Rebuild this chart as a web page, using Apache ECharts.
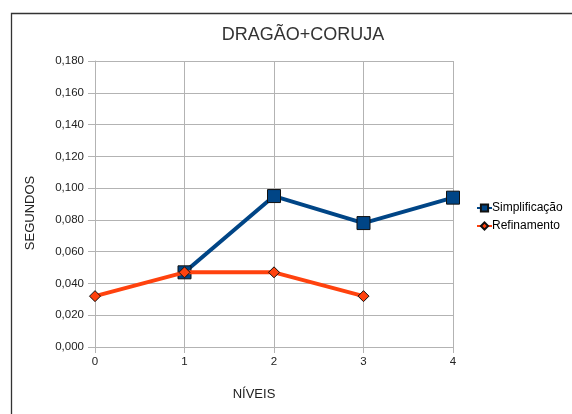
<!DOCTYPE html>
<html><head><meta charset="utf-8">
<script src="https://cdn.jsdelivr.net/npm/echarts@6/dist/echarts.min.js"></script>
<style>html,body{margin:0;padding:0;background:#fff}#c{width:572px;height:414px}</style>
</head><body><div id="c"></div>
<script>
const titleText = 'DRAGÃO+CORUJA';
const xName = 'NÍVEIS';
const yName = 'SEGUNDOS';
const levels = [0, 1, 2, 3, 4];
const simplificacao = [null, 0.047, 0.095, 0.078, 0.094];
const refinamento = [0.032, 0.047, 0.047, 0.032, null];
const seriesNames = ['Simplificação', 'Refinamento'];

const font = 'Liberation Sans, Arial, sans-serif';
const toPairs = arr => levels.map((x, i) => [x, arr[i]]).filter(p => p[1] !== null);

const chart = echarts.init(document.getElementById('c'), null, {renderer: 'canvas'});
chart.setOption({
  animation: false,
  backgroundColor: '#fff',
  graphic: [{
    type: 'rect', shape: {x: 11.5, y: 13.5, width: 580, height: 430},
    style: {fill: 'none', stroke: '#333', lineWidth: 1.3}, z: 0
  }],
  title: {
    text: titleText, left: 298, top: 21, textAlign: 'center',
    textStyle: {fontFamily: font, fontSize: 18, fontWeight: 'normal', color: '#333'}
  },
  grid: {left: 95, right: 119, top: 61, bottom: 67},
  legend: {
    orient: 'vertical', left: 471, top: 197, itemGap: 6,
    itemWidth: 15, itemHeight: 9,
    textStyle: {fontFamily: font, fontSize: 12, color: '#000', padding: [0,0,0,-5]},
    data: seriesNames
  },
  xAxis: {
    type: 'value', min: 0, max: 4, interval: 1,
    name: xName, nameLocation: 'middle', nameGap: 41,
    nameTextStyle: {fontFamily: font, fontSize: 13, color: '#222', padding: [0, 40, 0, 0]},
    axisLine: {show: true, onZero: false, lineStyle: {color: '#b3b3b3'}},
    axisTick: {show: true, length: 6, lineStyle: {color: '#b3b3b3'}},
    axisLabel: {fontFamily: font, fontSize: 11.5, color: '#222', margin: 9},
    splitLine: {show: true, lineStyle: {color: '#b3b3b3'}}
  },
  yAxis: {
    type: 'value', min: 0, max: 0.18, interval: 0.02,
    name: yName, nameLocation: 'middle', nameGap: 58,
    nameTextStyle: {fontFamily: font, fontSize: 13, color: '#222', padding: [0, 18, 0, 0]},
    axisLine: {show: true, lineStyle: {color: '#b3b3b3'}},
    axisTick: {show: true, length: 7, lineStyle: {color: '#b3b3b3'}},
    axisLabel: {fontFamily: font, fontSize: 11.5, color: '#222', margin: 11,
      formatter: v => v.toFixed(3).replace('.', ',')},
    splitLine: {show: true, lineStyle: {color: '#b3b3b3'}}
  },
  series: [{
    name: seriesNames[0], type: 'line', data: toPairs(simplificacao),
    symbol: 'rect', symbolSize: 13,
    lineStyle: {color: '#004586', width: 4},
    itemStyle: {color: '#004586', borderColor: '#111', borderWidth: 1},
    z: 2
  }, {
    name: seriesNames[1], type: 'line', data: toPairs(refinamento),
    symbol: 'diamond', symbolSize: 11,
    lineStyle: {color: '#ff420e', width: 4},
    itemStyle: {color: '#ff420e', borderColor: '#111', borderWidth: 1},
    z: 3
  }]
});
</script></body></html>
